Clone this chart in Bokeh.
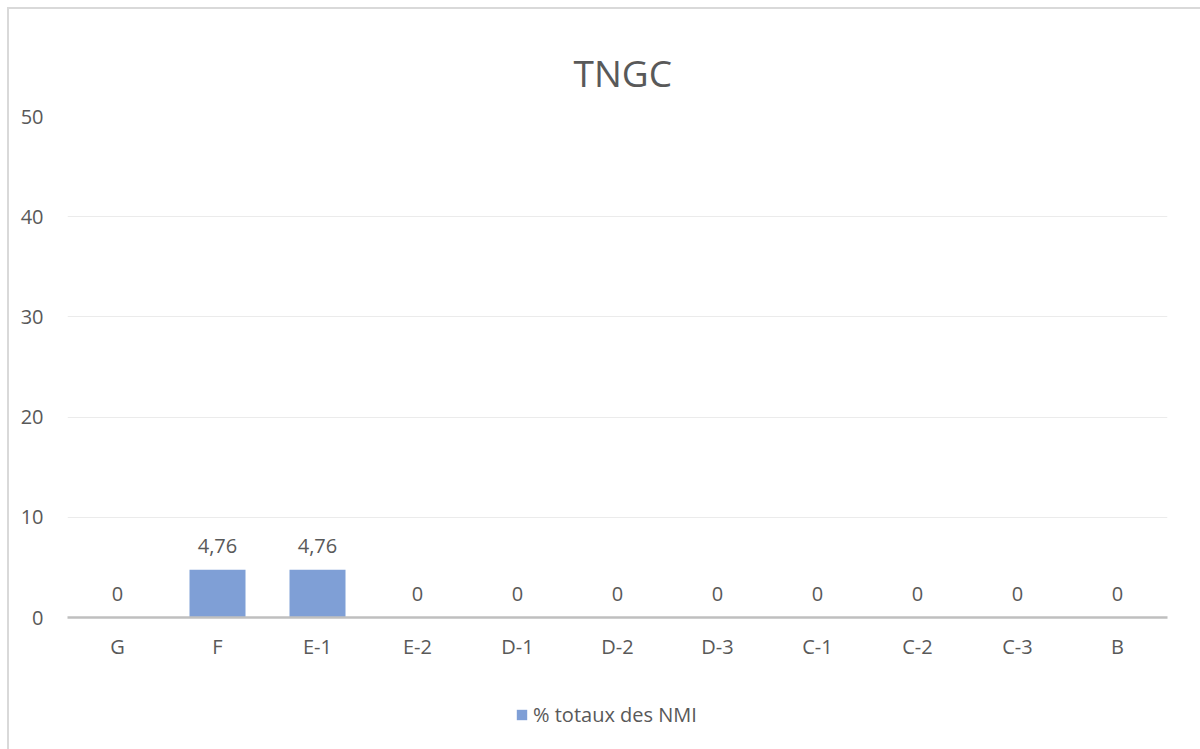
from bokeh.plotting import figure
from bokeh.layouts import column
from bokeh.models import ColumnDataSource, Legend, LegendItem, FactorRange, Range1d
from bokeh.core.properties import value
from bokeh.embed import file_html
from bokeh.resources import INLINE

categories = ["G", "F", "E-1", "E-2", "D-1", "D-2", "D-3", "C-1", "C-2", "C-3", "B"]
values = [0, 4.76, 4.76, 0, 0, 0, 0, 0, 0, 0, 0]
series_name = "% totaux des NMI"
title_text = "TNGC"
y_ticks = [0, 10, 20, 30, 40, 50]


def fmt(v):
    if v == int(v):
        return str(int(v))
    return ("%.2f" % v).replace(".", ",")


labels = [fmt(v) for v in values]

FONT = "Open Sans"
TXT = "#595959"
BAR = "#7F9FD6"
FS = "20px"

src = ColumnDataSource(dict(cat=categories, val=values, lab=labels))

p = figure(
    x_range=FactorRange(*categories, range_padding=0),
    y_range=Range1d(0, 50),
    width=1191, height=681,
    output_backend="svg", toolbar_location=None,
    min_border_left=58, min_border_right=33, min_border_top=107, min_border_bottom=73,
    title=title_text,
)
p.outline_line_color = None
p.background_fill_color = "white"
p.border_fill_color = "white"

p.title.align = "left"
p.title.offset = 506
p.title.text_color = TXT
p.title.text_font = FONT
p.title.text_font_size = "37px"
p.title.text_font_style = "normal"
p.title.standoff = 37

r = p.vbar(x="cat", top="val", width=0.56, source=src, fill_color=BAR, line_color=None)

p.text(x="cat", y="val", text="lab", source=src, text_align="center",
       text_baseline="middle", y_offset=-24, text_color=TXT,
       text_font=value(FONT), text_font_size=FS)

p.xgrid.grid_line_color = None
p.ygrid.grid_line_color = "#ebebeb"
p.ygrid.grid_line_width = 1
p.yaxis.ticker = y_ticks
p.yaxis.axis_line_color = None
p.yaxis.major_tick_line_color = None
p.yaxis.minor_tick_line_color = None
p.yaxis.major_label_text_color = TXT
p.yaxis.major_label_text_font = FONT
p.yaxis.major_label_text_font_size = FS
p.yaxis.major_label_standoff = 18

p.xaxis.axis_line_color = "#bfbfbf"
p.xaxis.axis_line_width = 2.5
p.xaxis.major_tick_line_color = None
p.xaxis.minor_tick_line_color = None
p.xaxis.major_label_text_color = TXT
p.xaxis.major_label_text_font = FONT
p.xaxis.major_label_text_font_size = FS
p.xaxis.major_label_standoff = 9

# legend strip below the chart
q = figure(width=1191, height=59, x_range=Range1d(0, 1), y_range=Range1d(0, 1),
           x_axis_location=None, y_axis_location=None,
           output_backend="svg", toolbar_location=None,
           min_border_left=0, min_border_right=0, min_border_top=0, min_border_bottom=0)
q.grid.grid_line_color = None
q.outline_line_color = None
q.background_fill_color = None
q.border_fill_color = None
# zero-height swatch renderer: only its legend glyph shows
swatch = q.vbar(x=[0.5], top=[0], width=0.1, fill_color=BAR, line_color=None)
legend = Legend(items=[LegendItem(label=series_name, renderers=[swatch])],
                location=(448, 21), orientation="horizontal",
                label_text_color=TXT, label_text_font=FONT, label_text_font_size=FS,
                glyph_width=13, glyph_height=13, border_line_color=None,
                background_fill_alpha=0, label_standoff=5, margin=0, padding=0)
q.add_layout(legend, "center")

layout = column(p, q, spacing=0)
layout.styles = {"margin-left": "7px", "margin-top": "7px",
                 "border-left": "2px solid #d9d9d9", "border-top": "2px solid #d9d9d9",
                 "background-color": "white"}

open("out.html", "w").write(file_html(layout, INLINE))
